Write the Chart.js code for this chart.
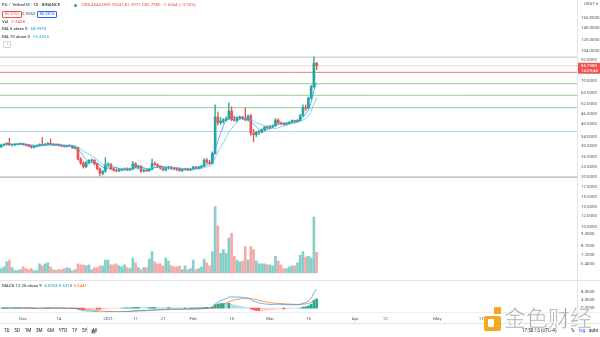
<!DOCTYPE html>
<html>
<head>
<meta charset="utf-8">
<script src="https://cdn.jsdelivr.net/npm/chart.js@4.4.0/dist/chart.umd.min.js"></script>
<style>
  html, body { margin:0; padding:0; background:#fff; width:600px; height:337px; overflow:hidden;
    font-family: Roboto, "Liberation Sans", Arial, sans-serif; color:#131722; }
  .box { position:absolute; left:0; width:600px; }
  .sep { position:absolute; background:#e0e3eb; }
  .txt { position:absolute; white-space:nowrap; font-size:4.4px; line-height:6px; }
  .red { color:#ef5350; } .blue { color:#2196f3; } .teal { color:#3fb8c9; } .orange { color:#ff6d00; }
  .pill { position:absolute; font-size:4.2px; line-height:4.6px; padding:0 1.4px; border-radius:1px; white-space:nowrap; }
  #wm { position:absolute; left:504px; top:301px; font-family:"Noto Sans CJK SC", sans-serif; font-size:22px;
    line-height:30px; color:rgba(150,150,150,0.85); letter-spacing:0px; -webkit-text-stroke:0.6px #fff; }
</style>
</head>
<body>
<div class="box" style="top:0;height:280px"><canvas id="priceChart"></canvas></div>
<div class="box" style="top:281px;height:42px"><canvas id="macdChart"></canvas></div>

<div class="sep" style="left:0;top:280px;width:600px;height:1px"></div>
<div class="sep" style="left:577px;top:0;width:1px;height:323px"></div>
<div class="sep" style="left:0;top:312px;width:600px;height:1px;background:#eceef3"></div>
<div class="sep" style="left:0;top:323px;width:600px;height:1px"></div>

<!-- symbol legend -->
<div class="txt" style="left:2px;top:2px">FIL / TetherUS · 1D · BINANCE</div>
<div style="position:absolute;left:73.5px;top:3.5px;width:3px;height:3px;border-radius:50%;background:#26a69a"></div>
<div class="txt red" id="ohlc" style="left:82px;top:2px"></div>
<div class="pill red" style="left:2px;top:11px;border:0.6px solid #ef5350">85.3251</div>
<div class="txt" style="left:22px;top:10.5px;color:#50535e">0.0565</div>
<div class="pill blue" style="left:37px;top:11px;border:0.6px solid #2962ff;color:#2962ff">85.3816</div>
<div class="txt" style="left:2px;top:18.7px">Vol <span class="red" id="volVal" style="margin-left:2px"></span></div>
<div class="txt" style="left:2px;top:26.3px">MA 5 close 0 <span class="blue" id="ma5Val" style="margin-left:2px"></span></div>
<div class="txt" style="left:2px;top:33.8px">MA 10 close 0 <span class="teal" id="ma10Val" style="margin-left:2px"></span></div>
<div style="position:absolute;left:3px;top:41px;width:6px;height:4.5px;border:0.6px solid #d1d4dc;border-radius:1px;font-size:4px;line-height:5px;text-align:center;color:#50535e">⌃</div>

<!-- indicator legend -->
<div class="txt" style="left:2px;top:282.5px">MACD 12 26 close 9 <span class="teal" id="histVal" style="margin-left:1.5px;color:#26a69a"></span> <span class="blue" id="macdVal"></span> <span class="orange" id="sigVal"></span></div>

<!-- currency -->
<div class="txt" style="left:584px;top:0.5px;color:#50535e">USDT ▾</div>

<!-- bottom toolbar -->
<div class="txt" style="left:4px;top:327.5px;font-size:4.6px;word-spacing:3.6px">1D 5D 1M 3M 6M YTD 1Y 5Y All</div>
<div class="sep" style="left:87px;top:326px;width:0.7px;height:8px"></div>
<div class="txt" style="left:91px;top:327.5px;font-size:5px;color:#50535e">▦</div>
<div class="txt" style="left:522px;top:327.5px;font-size:4.6px">17:50:13 (UTC-4)</div>
<div class="txt" style="left:571px;top:327.5px;font-size:4.6px">%</div>
<div class="txt" style="left:579px;top:327.5px;font-size:4.6px;color:#2962ff">log</div>
<div class="txt" style="left:589px;top:327.5px;font-size:4.6px">auto</div>

<!-- site mark -->
<div style="position:absolute;left:484px;top:307px;width:18px;height:24px">
  <div style="position:absolute;left:10px;top:0;width:7px;height:7px;background:#f5a623;border-radius:1px"></div>
  <div style="position:absolute;left:0;top:9px;width:17px;height:15px;background:#f5a623;border-radius:2px"></div>
  <div style="position:absolute;left:4px;top:12px;width:6px;height:8px;background:#fff;border-radius:1px"></div>
</div>
<div id="wm">金色财经</div>

<script>
// Daily candles, FIL/USDT. Day numbers count from 2020-12-01; the first candle is 2020-11-23.
const FIRST_DAY = -8;

const open = [
  29.8,30.4,30.7,31.1,30.5,30.6,30.8,30.9,31.0,30.6,30.3,30.0,29.5,29.9,30.2,30.7,30.4,30.8,31.1,30.8,
  30.4,30.7,30.2,30.0,29.8,30.1,30.2,29.2,29.4,25.3,24.1,22.9,24.2,24.9,25.0,23.8,22.3,21.0,21.6,23.6,
  23.7,22.3,21.9,21.7,22.0,22.2,22.4,22.0,22.3,23.8,22.9,23.1,21.6,21.9,21.7,22.2,23.9,23.6,23.0,22.5,
  22.0,22.6,22.8,22.5,22.3,22.2,21.8,22.1,22.3,22.0,22.2,22.8,22.5,22.8,23.1,25.0,24.3,23.9,27.3,43.8,
  40.8,41.6,42.3,43.0,47.5,42.4,42.0,43.3,43.8,43.0,42.2,44.6,35.6,34.8,35.9,36.3,37.2,38.5,38.0,38.9,
  39.2,42.2,40.6,40.2,39.9,40.4,41.0,41.9,41.5,42.0,44.6,49.8615,49.2,56.3,65.2441,88.4544
];
const high = [
  30.8,31.0,31.4,33.2,30.9,31.0,31.1,31.3,31.2,30.9,30.6,30.2,30.1,30.4,30.9,33.5,31.0,31.4,33.0,31.0,
  30.9,30.9,30.5,30.3,30.3,30.5,30.3,29.8,29.6,25.8,24.4,24.5,25.2,25.4,25.2,24.0,22.6,21.8,25.8,24.2,
  23.9,22.6,22.3,22.3,22.4,22.6,22.6,22.5,24.6,24.2,23.4,23.2,22.1,22.1,22.4,25.3,24.4,23.9,23.3,23.0,
  22.9,23.0,23.0,22.7,22.5,22.5,22.3,22.5,22.5,22.4,23.0,23.0,23.0,23.3,25.4,25.6,24.9,27.8,51.5,47.0,
  43.5,43.0,44.0,52.8,50.2,44.5,44.0,44.6,44.3,49.5,45.0,45.4,37.4,36.5,36.9,37.6,38.9,39.3,39.4,39.6,
  43.0,42.8,41.2,40.8,40.7,41.3,42.3,42.2,42.5,45.5,51.5,51.5,57.0,66.5,96.5,89.7554
];
const low = [
  29.4,30.1,30.4,30.3,30.0,30.2,30.4,30.6,30.4,30.1,29.8,29.2,29.3,29.7,30.0,30.2,30.2,30.5,30.5,30.2,
  30.2,30.0,29.8,29.6,29.6,29.8,29.1,28.8,25.0,23.6,22.5,22.6,23.8,24.3,23.5,22.1,20.3,20.6,21.3,22.8,
  22.0,21.6,21.4,21.5,21.7,21.9,21.8,21.8,22.0,22.6,22.3,21.3,21.4,21.5,21.6,22.0,23.2,22.7,22.2,21.7,
  21.7,22.2,22.1,21.9,21.8,21.6,21.5,21.9,21.8,21.8,22.0,22.3,22.3,22.5,22.9,23.9,23.6,23.7,27.0,39.5,
  39.8,40.5,41.5,42.5,41.8,41.5,41.2,42.4,42.6,41.8,41.6,34.5,31.8,34.0,35.0,35.6,36.6,37.4,37.6,38.2,
  38.8,40.1,39.7,39.5,39.6,40.1,40.7,41.0,41.1,41.6,44.2,47.8,48.8,55.5,64.5,81.3971
];
const close = [
  30.4,30.7,31.1,30.5,30.6,30.8,30.9,31.0,30.6,30.3,30.0,29.5,29.9,30.2,30.7,30.4,30.8,31.1,30.8,30.4,
  30.7,30.2,30.0,29.8,30.1,30.2,29.2,29.4,25.3,24.1,22.9,24.2,24.9,25.0,23.8,22.3,21.0,21.6,23.6,23.7,
  22.3,21.9,21.7,22.0,22.2,22.4,22.0,22.3,23.8,22.9,23.1,21.6,21.9,21.7,22.2,23.9,23.6,23.0,22.5,22.0,
  22.6,22.8,22.5,22.3,22.2,21.8,22.1,22.3,22.0,22.2,22.8,22.5,22.8,23.1,25.0,24.3,23.9,27.3,43.8,40.8,
  41.6,42.3,43.0,47.5,42.4,42.0,43.3,43.8,43.0,42.2,44.6,35.6,34.8,35.9,36.3,37.2,38.5,38.0,38.9,39.2,
  42.2,40.6,40.2,39.9,40.4,41.0,41.9,41.5,42.0,44.6,49.8615,49.2,56.3,65.2441,88.4544,85.7980
];
// Daily volume, millions of FIL
const volume = [
  0.76,1.06,1.82,2.13,0.91,0.46,0.46,0.61,1.06,0.76,0.61,0.76,0.46,0.46,1.52,1.21,1.52,1.67,1.06,0.61,
  0.46,0.61,0.61,0.76,0.91,0.76,0.46,0.61,1.52,1.37,1.37,1.21,1.37,0.61,0.91,0.91,1.21,1.21,2.13,2.13,
  1.37,1.37,1.52,1.21,1.06,1.37,0.91,0.76,2.43,1.67,0.91,0.61,0.91,0.91,2.28,3.49,1.82,1.52,1.52,1.21,
  2.43,1.97,1.21,1.06,1.06,1.21,0.61,1.21,0.61,0.76,2.13,0.61,0.76,1.06,2.28,1.67,1.21,3.49,10.63,7.59,
  3.19,3.80,3.19,5.62,6.38,2.73,2.13,1.82,1.97,4.25,2.13,4.25,3.80,1.97,1.52,1.52,1.52,1.37,1.37,1.21,
  2.73,1.97,1.37,0.76,0.76,1.06,1.21,1.21,1.67,2.89,3.49,2.58,2.73,2.43,8.96,3.3408
];

// Axis ticks
const priceTicks = [160,140,120,104,92,70,60,52,46,40,34,30,26,23,20,17.5,15.5,13.5,12,10.5,9.5,8.1,7.2,6.4];
const macdTicks = [8,4,0];
const timeTickDays = [0,13,31,41,51,62,76,90,104,121,132,151,167];
const timeTickLabels = ['Dec','14','2021','11','21','Feb','15','Mar','15','Apr','12','May','17'];

// Horizontal levels drawn across the price pane
const levelValues = [96.0, 78.7, 67.8, 58.3, 49.6, 36.3, 20.0];
const levelStyles = [
  {color:'rgba(140,170,150,0.75)', width:0.8},
  {color:'rgba(229,57,53,0.8)', width:0.8},
  {color:'rgba(76,175,80,0.75)', width:0.8},
  {color:'rgba(76,175,80,0.75)', width:0.8},
  {color:'rgba(76,175,80,0.75)', width:0.8},
  {color:'rgba(100,181,246,0.7)', width:0.8},
  {color:'rgba(190,194,204,0.9)', width:1.8}
];

// ---- view window and colours ----
const X_MIN = -8.42, X_MAX = 201.9;
const PRICE_MIN = 5.685, PRICE_MAX = 185.8;
const VOL_MAX = 42.52;
const UP = '#26a69a', DOWN = '#ef5350';
const UP_VOL = 'rgba(38,166,154,0.55)', DOWN_VOL = 'rgba(239,83,80,0.5)';
const AXIS_FONT = {family:'Roboto, "Liberation Sans", Arial, sans-serif', size:4.4};
const AXIS_COLOR = '#50535e';

const days = close.map((_, i) => FIRST_DAY + i);
const isUp = close.map((c, i) => c >= open[i]);

function sma(src, n) {
  return src.map((_, i) => i < n - 1 ? null : src.slice(i - n + 1, i + 1).reduce((a, b) => a + b, 0) / n);
}
function ema(src, n) {
  const a = 2 / (n + 1); let prev = null;
  return src.map(v => (prev = prev === null ? v : a * v + (1 - a) * prev));
}
const ma5 = sma(close, 5), ma10 = sma(close, 10);
const ema12 = ema(close, 12), ema26 = ema(close, 26);
const macdLine = ema12.map((v, i) => v - ema26[i]);
const signalLine = ema(macdLine, 9);
const histogram = macdLine.map((v, i) => v - signalLine[i]);
const histColors = histogram.map((h, i) => {
  const prev = i ? histogram[i - 1] : h;
  return h >= 0 ? (h > prev ? '#26a69a' : '#b2dfdb') : (h > prev ? '#ffcdd2' : '#ff5252');
});

// legend values
const n = close.length - 1;
const chg = close[n] - close[n - 1];
const f4 = v => v.toFixed(4);
const sgn = v => (v < 0 ? '\u2212' : '+') + Math.abs(v).toFixed(4);
document.getElementById('ohlc').textContent =
  `O${f4(open[n])} H${f4(high[n])} L${f4(low[n])} C${f4(close[n])} ${sgn(chg)} (${chg < 0 ? '\u2212' : '+'}${Math.abs(chg / close[n - 1] * 100).toFixed(2)}%)`;
document.getElementById('volVal').textContent = f4(volume[n]);
document.getElementById('ma5Val').textContent = f4(ma5[n]);
document.getElementById('ma10Val').textContent = f4(ma10[n]);
document.getElementById('histVal').textContent = f4(histogram[n]);
document.getElementById('macdVal').textContent = f4(macdLine[n]);
document.getElementById('sigVal').textContent = f4(signalLine[n]);

const pts = arr => arr.map((v, i) => ({x: days[i], y: v}));

const levelsPlugin = {
  id: 'levels',
  beforeDatasetsDraw(chart) {
    const {ctx, chartArea: {left, right}, scales: {y}} = chart;
    ctx.save();
    levelValues.forEach((v, i) => {
      const py = y.getPixelForValue(v);
      ctx.strokeStyle = levelStyles[i].color;
      ctx.lineWidth = levelStyles[i].width;
      ctx.beginPath(); ctx.moveTo(left, py); ctx.lineTo(right, py); ctx.stroke();
    });
    // last price line
    const py = y.getPixelForValue(close[n]);
    ctx.strokeStyle = isUp[n] ? UP : DOWN;
    ctx.globalAlpha = 0.7;
    ctx.lineWidth = 0.6;
    ctx.setLineDash([1, 1]);
    ctx.beginPath(); ctx.moveTo(left, py); ctx.lineTo(right, py); ctx.stroke();
    ctx.restore();
  },
  afterDraw(chart) {
    const {ctx, chartArea, scales: {y}} = chart;
    const py = y.getPixelForValue(close[n]);
    ctx.save();
    ctx.fillStyle = isUp[n] ? UP : DOWN;
    ctx.fillRect(chartArea.right + 1, py - 3, chart.width - chartArea.right - 1, 11);
    ctx.fillStyle = '#fff';
    ctx.font = `${AXIS_FONT.size}px ${AXIS_FONT.family}`;
    ctx.textBaseline = 'middle';
    ctx.fillText(f4(close[n]), chartArea.right + 4, py + 0.3);
    ctx.fillText('14:09:46', chartArea.right + 4, py + 5.3);
    ctx.restore();
  }
};

new Chart(document.getElementById('priceChart'), {
  type: 'bar',
  data: {
    datasets: [
      {type: 'line', data: pts(ma5), borderColor: '#2196f3', borderWidth: 0.7, pointRadius: 0, order: 1, spanGaps: false},
      {type: 'line', data: pts(ma10), borderColor: '#4dc4d4', borderWidth: 0.7, pointRadius: 0, order: 1, spanGaps: false},
      {data: days.map((d, i) => ({x: d, y: [open[i], close[i]]})), backgroundColor: isUp.map(u => u ? UP : DOWN),
       barThickness: 2, grouped: false, order: 2},
      {data: days.map((d, i) => ({x: d, y: [low[i], high[i]]})), backgroundColor: isUp.map(u => u ? UP : DOWN),
       barThickness: 0.7, grouped: false, order: 3},
      {data: days.map((d, i) => ({x: d, y: volume[i]})), backgroundColor: isUp.map(u => u ? UP_VOL : DOWN_VOL),
       barThickness: 2, grouped: false, yAxisID: 'yVol', order: 5}
    ]
  },
  options: {
    animation: false, responsive: true, maintainAspectRatio: false,
    layout: {padding: 0},
    plugins: {legend: {display: false}, tooltip: {enabled: false}},
    scales: {
      x: {type: 'linear', min: X_MIN, max: X_MAX, offset: false, display: false},
      y: {
        type: 'logarithmic', position: 'right', min: PRICE_MIN, max: PRICE_MAX,
        grid: {display: false, drawTicks: false}, border: {display: false},
        afterBuildTicks: s => { s.ticks = priceTicks.map(v => ({value: v})); },
        afterFit: s => { s.width = 23; },
        ticks: {autoSkip: false, padding: 4, font: AXIS_FONT, color: AXIS_COLOR, callback: v => Number(v).toFixed(4)}
      },
      yVol: {type: 'linear', display: false, min: 0, max: VOL_MAX}
    }
  },
  plugins: [levelsPlugin]
});

new Chart(document.getElementById('macdChart'), {
  type: 'bar',
  data: {
    datasets: [
      {type: 'line', data: pts(macdLine), borderColor: '#2196f3', borderWidth: 0.7, pointRadius: 0, order: 1},
      {type: 'line', data: pts(signalLine), borderColor: '#ff6d00', borderWidth: 0.7, pointRadius: 0, order: 1},
      {data: pts(histogram), backgroundColor: histColors, barThickness: 2, grouped: false, order: 3}
    ]
  },
  options: {
    animation: false, responsive: true, maintainAspectRatio: false,
    layout: {padding: 0},
    plugins: {legend: {display: false}, tooltip: {enabled: false}},
    scales: {
      x: {
        type: 'linear', min: X_MIN, max: X_MAX, offset: false,
        grid: {display: false, drawTicks: false}, border: {display: false},
        afterBuildTicks: s => { s.ticks = timeTickDays.map(v => ({value: v})); },
        afterFit: s => { s.height = 11; },
        ticks: {autoSkip: false, maxRotation: 0, padding: 4, font: AXIS_FONT, color: AXIS_COLOR,
                callback: v => timeTickLabels[timeTickDays.indexOf(v)]}
      },
      y: {
        position: 'right', min: -2, max: 10.4,
        grid: {display: false, drawTicks: false}, border: {display: false},
        afterBuildTicks: s => { s.ticks = macdTicks.map(v => ({value: v})); },
        afterFit: s => { s.width = 23; },
        ticks: {autoSkip: false, padding: 4, font: AXIS_FONT, color: AXIS_COLOR, callback: v => Number(v).toFixed(4)}
      }
    }
  }
});
</script>
</body>
</html>
